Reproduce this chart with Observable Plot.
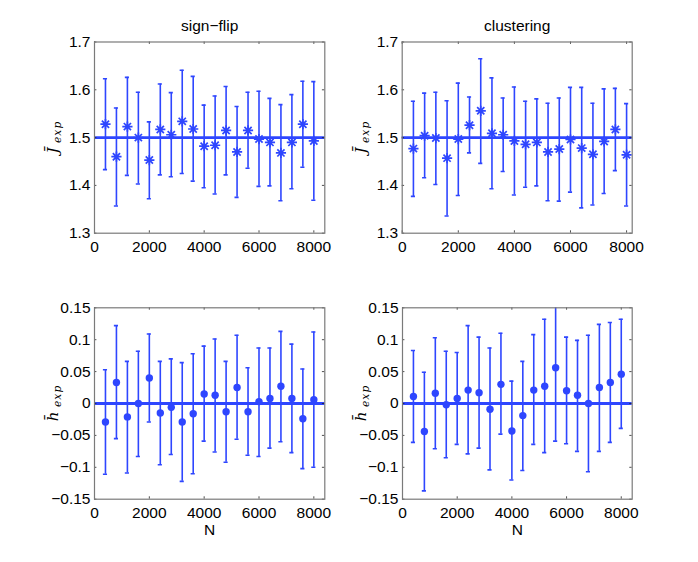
<!DOCTYPE html>
<html><head><meta charset="utf-8">
<script src="https://cdn.jsdelivr.net/npm/d3@7"></script>
<script src="https://cdn.jsdelivr.net/npm/@observablehq/plot@0.6"></script>
<style>
body{margin:0;background:#fff;}
#fig{position:relative;width:698px;height:562px;background:#fff;font-family:"Liberation Sans",Arial,sans-serif;}
#fig svg{position:absolute;left:0;top:0;}
</style></head><body><div id="fig"></div>
<script>
// ---- data ----
const N = [400,800,1200,1600,2000,2400,2800,3200,3600,4000,4400,4800,5200,5600,6000,6400,6800,7200,7600,8000];

const signFlipJMean = [1.528,1.460,1.523,1.500,1.453,1.517,1.506,1.534,1.518,1.482,1.484,1.515,1.470,1.515,1.497,1.490,1.468,1.490,1.528,1.493];
const signFlipJHigh = [1.623,1.562,1.626,1.595,1.533,1.612,1.594,1.641,1.628,1.568,1.587,1.607,1.565,1.595,1.597,1.582,1.569,1.590,1.618,1.617];
const signFlipJLow  = [1.433,1.357,1.421,1.403,1.372,1.422,1.418,1.425,1.409,1.395,1.382,1.422,1.375,1.436,1.398,1.399,1.368,1.393,1.438,1.369];

const clusterJMean = [1.477,1.504,1.499,1.457,1.497,1.526,1.556,1.509,1.506,1.493,1.486,1.490,1.470,1.476,1.496,1.478,1.465,1.492,1.517,1.464];
const clusterJHigh = [1.576,1.593,1.595,1.577,1.614,1.585,1.665,1.625,1.583,1.606,1.576,1.581,1.572,1.583,1.605,1.605,1.572,1.602,1.603,1.571];
const clusterJLow  = [1.377,1.416,1.402,1.336,1.379,1.468,1.446,1.393,1.429,1.380,1.396,1.399,1.368,1.367,1.386,1.353,1.359,1.383,1.431,1.357];

const signFlipHMean = [-0.029,0.033,-0.021,0.000,0.040,-0.015,-0.006,-0.029,-0.016,0.015,0.013,-0.013,0.025,-0.013,0.003,0.008,0.027,0.008,-0.024,0.006];
const signFlipHHigh = [0.053,0.122,0.066,0.082,0.109,0.066,0.070,0.064,0.078,0.090,0.101,0.066,0.107,0.056,0.087,0.087,0.113,0.093,0.054,0.112];
const signFlipHLow  = [-0.111,-0.055,-0.109,-0.083,-0.029,-0.096,-0.080,-0.122,-0.110,-0.059,-0.076,-0.092,-0.056,-0.081,-0.083,-0.070,-0.060,-0.077,-0.102,-0.100];

const clusterHMean = [0.011,-0.044,0.016,-0.002,0.008,0.021,0.017,-0.009,0.030,-0.043,-0.019,0.021,0.027,0.056,0.020,0.013,0.000,0.025,0.033,0.046];
const clusterHHigh = [0.083,0.049,0.103,0.082,0.080,0.122,0.104,0.087,0.110,0.035,0.066,0.108,0.132,0.170,0.104,0.099,0.107,0.124,0.127,0.132];
const clusterHLow  = [-0.061,-0.137,-0.071,-0.085,-0.064,-0.079,-0.070,-0.104,-0.048,-0.120,-0.105,-0.064,-0.077,-0.059,-0.063,-0.075,-0.107,-0.075,-0.061,-0.039];

const xTicks = [0,2000,4000,6000,8000];
const jTicks = [1.3,1.4,1.5,1.6,1.7];
const hTicks = [-0.15,-0.1,-0.05,0,0.05,0.1,0.15];
const titles = ["sign\u2212flip","clustering"];
const xLabel = "N";

// ---- drawing ----
const W = 698, H = 562;
const BLUE = "#2e46ff";
const FS = 15.5;
const fig = document.getElementById("fig");

const asterisk8 = {
  draw(context, size) {
    const r = Math.sqrt(size / Math.PI);
    const d = r * Math.SQRT1_2;
    context.moveTo(-r, 0); context.lineTo(r, 0);
    context.moveTo(0, -r); context.lineTo(0, r);
    context.moveTo(-d, -d); context.lineTo(d, d);
    context.moveTo(-d, d); context.lineTo(d, -d);
  }
};

const fmt = d3.format("~g");

function panel({mean, low, high, yDomain, yTicks, ref, xMax, box, marker, title, showX, ylab}) {
  const rows = N.map((n, i) => ({N: n, m: mean[i], lo: low[i], hi: high[i]}));
  const [left, right, top, bottom] = box;
  const iw = right - left, ih = bottom - top;
  const cap = xMax * 0.009;
  const tl = 2.4;
  const marks = [
    Plot.ruleX(rows, {x: "N", y1: "lo", y2: "hi", stroke: BLUE, strokeWidth: 1.6, clip: true}),
    Plot.ruleY(rows, {y: "hi", x1: d => d.N - cap, x2: d => d.N + cap, stroke: BLUE, strokeWidth: 1.6, clip: true}),
    Plot.ruleY(rows, {y: "lo", x1: d => d.N - cap, x2: d => d.N + cap, stroke: BLUE, strokeWidth: 1.6, clip: true}),
    Plot.ruleY([ref], {stroke: BLUE, strokeWidth: 2.8}),
    marker === "asterisk"
      ? Plot.dot(rows, {x: "N", y: "m", r: 5.1, symbol: asterisk8, fill: "none", stroke: BLUE, strokeWidth: 1.7})
      : Plot.dot(rows, {x: "N", y: "m", r: 3.7, fill: BLUE, stroke: "none"}),
    // inward ticks on all four sides
    Plot.tickX(xTicks, {x: d => d, insetTop: ih - tl, stroke: "#222", strokeWidth: 0.8}),
    Plot.tickX(xTicks, {x: d => d, insetBottom: ih - tl, stroke: "#222", strokeWidth: 0.8}),
    Plot.tickY(yTicks, {y: d => d, insetRight: iw - tl, stroke: "#222", strokeWidth: 0.8}),
    Plot.tickY(yTicks, {y: d => d, insetLeft: iw - tl, stroke: "#222", strokeWidth: 0.8}),
    Plot.frame({stroke: "#7a7a7a", strokeWidth: 1.2}),
    Plot.axisX(xTicks, {tickSize: 0, tickPadding: 7.5, tickFormat: fmt, fontSize: FS, fill: "#000", label: null}),
    Plot.axisY(yTicks, {tickSize: 0, tickPadding: 4, tickFormat: fmt, fontSize: FS, fill: "#000", label: null})
  ];
  if (title) marks.push(Plot.text([title], {frameAnchor: "top", lineAnchor: "bottom", dy: -11.5, fontSize: FS, fill: "#000"}));
  if (showX) marks.push(Plot.text([xLabel], {frameAnchor: "bottom", lineAnchor: "bottom", dy: 36, fontSize: FS, fill: "#000"}));
  const svg = Plot.plot({
    width: W, height: H,
    marginLeft: left, marginRight: W - right, marginTop: top, marginBottom: H - bottom,
    style: {background: "transparent", overflow: "visible", fontFamily: "'Liberation Sans', Arial, sans-serif", fontSize: FS + "px"},
    x: {domain: [0, xMax], axis: null, label: null},
    y: {domain: yDomain, axis: null, label: null},
    marks
  });
  // y label: bar-letter with italic subscript "exp"
  const cx = left - 36, cy = (top + bottom) / 2;
  const t = d3.select(svg).append("text")
    .attr("transform", `translate(${cx},${cy}) rotate(-90)`)
    .attr("text-anchor", "middle")
    .attr("font-family", "'DejaVu Serif', 'Liberation Serif', serif")
    .attr("font-style", "italic")
    .attr("fill", "#000");
  t.append("tspan").attr("font-size", 15).text(ylab + "\u0304");
  t.append("tspan").attr("font-size", 10.5).attr("dy", 3).attr("letter-spacing", 1.2).text(" exp");
  fig.appendChild(svg);
}

panel({mean: signFlipJMean, low: signFlipJLow, high: signFlipJHigh, yDomain: [1.3, 1.7], yTicks: jTicks, ref: 1.5,
  xMax: 8400, box: [94, 324.3, 41.5, 232.7], marker: "asterisk", title: titles[0], showX: false, ylab: "J"});
panel({mean: clusterJMean, low: clusterJLow, high: clusterJHigh, yDomain: [1.3, 1.7], yTicks: jTicks, ref: 1.5,
  xMax: 8200, box: [401.7, 631.7, 41.5, 232.7], marker: "asterisk", title: titles[1], showX: false, ylab: "J"});
panel({mean: signFlipHMean, low: signFlipHLow, high: signFlipHHigh, yDomain: [-0.15, 0.15], yTicks: hTicks, ref: 0,
  xMax: 8400, box: [94, 324.3, 307.3, 498.7], marker: "dot", title: null, showX: true, ylab: "h"});
panel({mean: clusterHMean, low: clusterHLow, high: clusterHHigh, yDomain: [-0.15, 0.15], yTicks: hTicks, ref: 0,
  xMax: 8400, box: [402, 631.7, 307.3, 498.7], marker: "dot", title: null, showX: true, ylab: "h"});
</script>
</body></html>
